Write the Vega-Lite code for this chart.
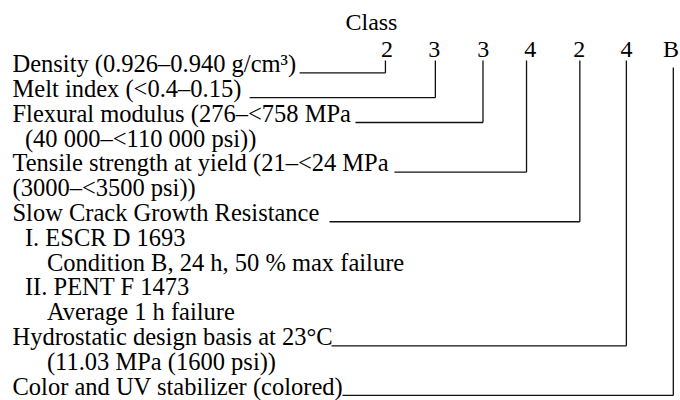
{
  "$schema": "https://vega.github.io/schema/vega-lite/v6.json",
  "width": 680,
  "height": 400,
  "padding": 0,
  "autosize": {"type": "fit", "contains": "padding"},
  "background": "white",
  "config": {"view": {"stroke": null}},
  "datasets": {
    "labels": [
      {"line": 0, "pos": 12.5, "label": "Density (0.926–0.940 g/cm³)"},
      {"line": 1, "pos": 12.5, "label": "Melt index (<0.4–0.15)"},
      {"line": 2, "pos": 12.5, "label": "Flexural modulus (276–<758 MPa"},
      {"line": 3, "pos": 25, "label": "(40 000–<110 000 psi))"},
      {"line": 4, "pos": 12.5, "label": "Tensile strength at yield (21–<24 MPa"},
      {"line": 5, "pos": 12.5, "label": "(3000–<3500 psi))"},
      {"line": 6, "pos": 12.5, "label": "Slow Crack Growth Resistance"},
      {"line": 7, "pos": 25, "label": "I. ESCR D 1693"},
      {"line": 8, "pos": 47, "label": "Condition B, 24 h, 50 % max failure"},
      {"line": 9, "pos": 25, "label": "II. PENT F 1473"},
      {"line": 10, "pos": 47, "label": "Average 1 h failure"},
      {"line": 11, "pos": 12.5, "label": "Hydrostatic design basis at 23°C"},
      {"line": 12, "pos": 47, "label": "(11.03 MPa (1600 psi))"},
      {"line": 13, "pos": 12.5, "label": "Color and UV stabilizer (colored)"}
    ],
    "classes": [
      {"line": -1.71, "pos": 372, "label": "Class"},
      {"line": -0.6, "pos": 387.5, "label": "2"},
      {"line": -0.6, "pos": 435, "label": "3"},
      {"line": -0.6, "pos": 484, "label": "3"},
      {"line": -0.6, "pos": 531, "label": "4"},
      {"line": -0.6, "pos": 580, "label": "2"},
      {"line": -0.6, "pos": 627.5, "label": "4"},
      {"line": -0.6, "pos": 672, "label": "B"}
    ],
    "segments": [
      {"x": 300, "x2": 386, "y": 0.03, "y2": 0.03},
      {"x": 250, "x2": 436, "y": 1.03, "y2": 1.03},
      {"x": 356, "x2": 483.7, "y": 2.03, "y2": 2.03},
      {"x": 395, "x2": 527.3, "y": 4.03, "y2": 4.03},
      {"x": 330, "x2": 580.7, "y": 6.03, "y2": 6.03},
      {"x": 332, "x2": 627.3, "y": 11.03, "y2": 11.03},
      {"x": 343, "x2": 674.3, "y": 13.03, "y2": 13.03},
      {"x": 386, "x2": 386, "y": -0.47, "y2": 0.03},
      {"x": 436, "x2": 436, "y": -0.47, "y2": 1.03},
      {"x": 483.7, "x2": 483.7, "y": -0.47, "y2": 2.03},
      {"x": 527.3, "x2": 527.3, "y": -0.47, "y2": 4.03},
      {"x": 580.7, "x2": 580.7, "y": -0.47, "y2": 6.03},
      {"x": 627.3, "x2": 627.3, "y": -0.47, "y2": 11.03},
      {"x": 674.3, "x2": 674.3, "y": -0.19, "y2": 13.03}
    ]
  },
  "layer": [
    {
      "data": {"name": "segments"},
      "mark": {"type": "rule", "color": "#111111", "strokeWidth": 1.3},
      "encoding": {
        "x": {"field": "x", "type": "quantitative", "scale": {"domain": [0, 680], "nice": false, "zero": false}, "axis": null},
        "x2": {"field": "x2"},
        "y": {"field": "y", "type": "quantitative", "scale": {"domain": [-2.908, 13.092], "nice": false, "zero": false, "reverse": true}, "axis": null},
        "y2": {"field": "y2"}
      }
    },
    {
      "data": {"name": "labels"},
      "mark": {"type": "text", "align": "left", "baseline": "alphabetic", "font": "Liberation Serif", "fontSize": 24.5, "color": "#000000"},
      "encoding": {
        "x": {"field": "pos", "type": "quantitative"},
        "y": {"field": "line", "type": "quantitative"},
        "text": {"field": "label"}
      }
    },
    {
      "data": {"name": "classes"},
      "mark": {"type": "text", "align": "center", "baseline": "alphabetic", "font": "Liberation Serif", "fontSize": 24, "color": "#000000"},
      "encoding": {
        "x": {"field": "pos", "type": "quantitative"},
        "y": {"field": "line", "type": "quantitative"},
        "text": {"field": "label"}
      }
    }
  ]
}
